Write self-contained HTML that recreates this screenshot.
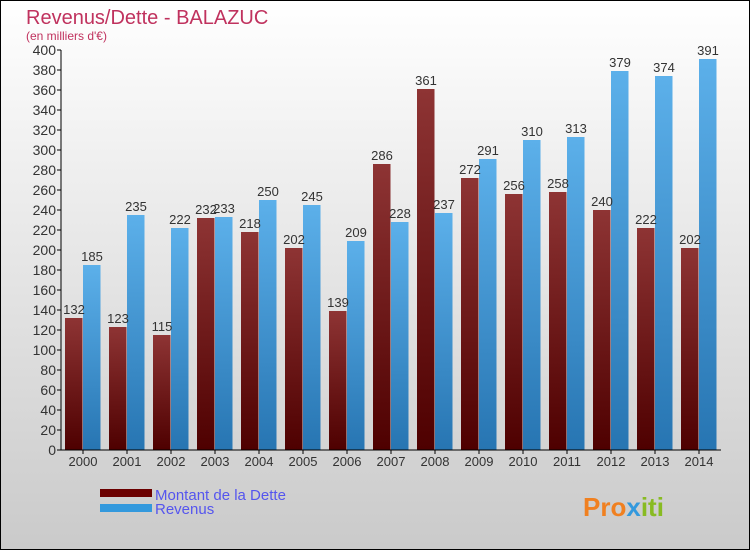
<!DOCTYPE html>
<html><head><meta charset="utf-8"><style>
body{margin:0;width:750px;height:550px;overflow:hidden;font-family:"Liberation Sans",sans-serif}
svg text{font-family:"Liberation Sans","DejaVu Sans",sans-serif}
</style></head><body>
<svg id="c" width="750" height="550" xmlns="http://www.w3.org/2000/svg">
<defs>
<linearGradient id="bg" x1="0" y1="0" x2="0" y2="1"><stop offset="0" stop-color="#ffffff"/><stop offset="1" stop-color="#cacaca"/></linearGradient>
<linearGradient id="gd" x1="0" y1="0" x2="0" y2="1"><stop offset="0" stop-color="#8e3434"/><stop offset="1" stop-color="#4e0000"/></linearGradient>
<linearGradient id="gr" x1="0" y1="0" x2="0" y2="1"><stop offset="0" stop-color="#5cb0ea"/><stop offset="1" stop-color="#2775b2"/></linearGradient>
</defs>
<rect x="0.5" y="0.5" width="749" height="549" fill="url(#bg)" stroke="#000"/>
<text x="26" y="24" font-size="20" fill="#c0325e">Revenus/Dette - BALAZUC</text>
<text x="26" y="40" font-size="12" fill="#c0325e">(en milliers d'€)</text>
<g id="plot"></g>
<rect x="100" y="489" width="52" height="8" fill="#6b0000"/>
<rect x="100" y="504" width="52" height="8" fill="#3399dd"/>
<text x="155" y="500" font-size="15" fill="#5555ee">Montant de la Dette</text>
<text x="155" y="514" font-size="15" fill="#5555ee">Revenus</text>
<text x="583" y="516" font-size="26" font-weight="bold" fill="#f08020">Pro<tspan fill="#3399dd">x</tspan><tspan fill="#88bb22">iti</tspan></text>
</svg>
<script>
const years=["2000","2001","2002","2003","2004","2005","2006","2007","2008","2009","2010","2011","2012","2013","2014"];
const dette=[132,123,115,232,218,202,139,286,361,272,256,258,240,222,202];
const revenus=[185,235,222,233,250,245,209,228,237,291,310,313,379,374,391];
const ticks=[0,20,40,60,80,100,120,140,160,180,200,220,240,260,280,300,320,340,360,380,400];
const X0=61,X1=721,Y0=450,Y1=50,MAX=400;
const y=v=>Y0-(v/MAX)*(Y0-Y1);
const step=(X1-X0)/years.length;
const cx=i=>X0+step*(i+0.5);
const g=document.getElementById('plot');const NS="http://www.w3.org/2000/svg";
function mk(t,a){const e=document.createElementNS(NS,t);for(const k in a)e.setAttribute(k,a[k]);g.appendChild(e);return e;}
ticks.forEach(t=>{
 const l=mk('line',{x1:X0-4,x2:X0,y1:y(t),y2:y(t),stroke:'#000'});
 
 
 const tx=mk('text',{x:X0-5,y:y(t)+5,'font-size':14,fill:'#333','text-anchor':'end'});tx.textContent=t;
 
 
});
years.forEach((yr,i)=>{
 const c=cx(i);
 const b1=mk('rect',{x:c-18,y:y(dette[i]),width:17.5,height:Y0-y(dette[i]),fill:'url(#gd)'});
 
 
 const b2=mk('rect',{x:c,y:y(revenus[i]),width:17.5,height:Y0-y(revenus[i]),fill:'url(#gr)'});
 
 
 const t1=mk('text',{x:c-9,y:y(dette[i])-4,'font-size':13,fill:'#333','text-anchor':'middle'});t1.textContent=dette[i];
 
 
 const t2=mk('text',{x:c+9,y:y(revenus[i])-4,'font-size':13,fill:'#333','text-anchor':'middle'});t2.textContent=revenus[i];
 
 
 const tk=mk('line',{x1:c,x2:c,y1:Y0,y2:Y0+4,stroke:'#000'});
 
 
 const xl=mk('text',{x:c,y:Y0+16,'font-size':13,fill:'#333','text-anchor':'middle'});xl.textContent=yr;
 
 
});
const ax=mk('line',{x1:X0,x2:X0,y1:Y1,y2:Y0,stroke:'#000'});


const bx=mk('line',{x1:X0,x2:X1,y1:Y0,y2:Y0,stroke:'#000'});


</script>
</body></html>
